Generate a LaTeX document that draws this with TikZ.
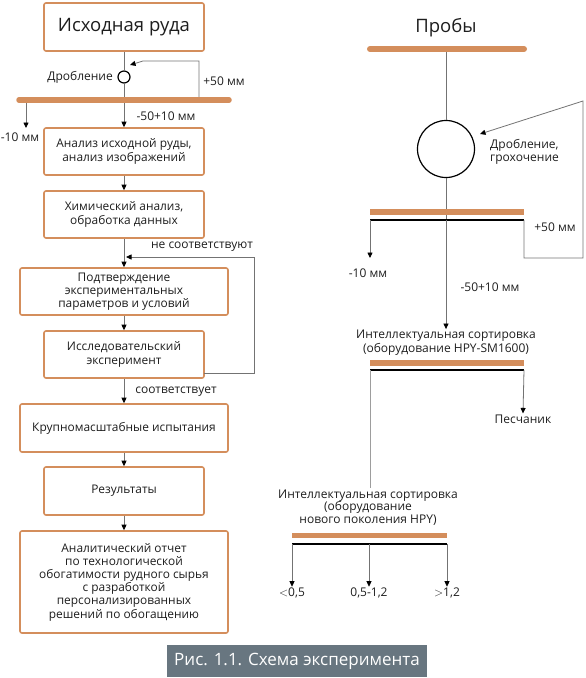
\documentclass[tikz,border=0pt]{standalone}
\usepackage{fontspec}
\setmainfont{Open Sans}
\usetikzlibrary{arrows.meta}
\definecolor{orng}{RGB}{212,142,92}
\definecolor{lgrey}{RGB}{115,115,115}
\definecolor{capbg}{RGB}{104,118,128}
\definecolor{txt}{RGB}{30,30,30}
\begin{document}
\begin{tikzpicture}[x=1pt,y=-1pt,
  every node/.style={text=txt},
  box/.style={draw=orng, line width=1.6pt, rounded corners=2pt, fill=white, align=center,
    font=\fontsize{11.9}{13.2}\selectfont, inner sep=2pt},
  con/.style={draw=lgrey, line width=0.8pt},
  arr/.style={con, -{Triangle[length=5.5pt,width=5pt,color=black]}},
  obar/.style={draw=orng, line width=5.5pt},
  kline/.style={draw=black, line width=1.3pt},
  lbl/.style={font=\fontsize{12}{13.5}\selectfont, inner sep=1pt, align=center},
  big/.style={font=\fontsize{18.5}{21}\selectfont}
]
\useasboundingbox (0,0) rectangle (586,678);

% ---------------- left column ----------------
\node[box, big, minimum width=160pt, minimum height=48pt] (b1) at (124,27) {Исходная руда};
\node[box, minimum width=160pt, minimum height=47pt] (b2) at (124,151.5) {Анализ исходной руды,\\анализ изображений};
\node[box, minimum width=160pt, minimum height=47pt] (b3) at (124,214.5) {Химический анализ,\\обработка данных};
\node[box, minimum width=208pt, minimum height=47pt] (b4) at (124,291.5) {Подтверждение\\экспериментальных\\параметров и условий};
\node[box, minimum width=160pt, minimum height=47pt] (b5) at (124,354.5) {Исследовательский\\эксперимент};
\node[box, minimum width=208pt, minimum height=48pt] (b6) at (124,428) {Крупномасштабные испытания};
\node[box, minimum width=160pt, minimum height=48pt] (b7) at (124,491) {Результаты};
\node[box, minimum width=208pt, minimum height=102pt] (b8) at (124,582) {Аналитический отчет\\по технологической\\обогатимости рудного сырья\\с разработкой\\персонализированных\\решений по обогащению};

\node[circle, draw=black, line width=1.2pt, minimum size=12pt, inner sep=0pt] (c1) at (124,77) {};
\node[lbl, anchor=east] (drob) at (114,77) {Дробление};
\node[lbl] (p50a) at (224,81) {+50 мм};
\node[lbl] (m5010a) at (166,116) {-50+10 мм};
\node[lbl] (m10a) at (20,137) {-10 мм};
\node[lbl] (nes) at (202,247) {не соответствуют};
\node[lbl] (sot) at (176,392) {соответствует};

\coordinate (bar1L) at (19,100);
\coordinate (bar1R) at (229,100);
\coordinate (fbS) at (199,100);
\coordinate (fbT) at (199,61);
\coordinate (fbK) at (143,61);
\coordinate (fbE) at (130,65);
\coordinate (m10S) at (26,100);
\coordinate (m10E) at (26,128);

\draw[con] (b1.south) -- (c1.north);
\draw[arr] (c1.south) -- (b2.north);
\draw[arr] (fbS) -- (fbT) -- (fbK) -- (fbE);
\draw[arr] (m10S) -- (m10E);
\draw[obar, line cap=round] (bar1L) -- (bar1R);

\draw[arr] (b2) -- (b3);
\draw[arr] (b3) -- (b4);
\coordinate (fb2A) at (204,373);
\coordinate (fb2B) at (254,373);
\coordinate (fb2C) at (254,257);
\coordinate (fb2E) at (126,257);
\draw[arr] (fb2A) -- (fb2B) -- (fb2C) -- (fb2E);
\draw[arr] (b4) -- (b5);
\draw[arr] (b5) -- (b6);
\draw[arr] (b6) -- (b7);
\draw[arr] (b7) -- (b8);

% ---------------- right column ----------------
\node[big] (prob) at (446,28) {Пробы};
\coordinate (r1L) at (370,49);
\coordinate (r1R) at (524,49);
\coordinate (r1M) at (446,49);
\node[circle, draw=black, line width=1.2pt, minimum size=57pt, inner sep=0pt] (c2) at (446,149) {};

\coordinate (r2L) at (370,212);
\coordinate (r2R) at (524,212);
\coordinate (k2L) at (370,220);
\coordinate (k2R) at (524,220);
\coordinate (k2M) at (446,220);

\draw[con] (r1M) -- (c2.north);
\draw[con] (c2.south) -- (k2M);
\draw[obar, line cap=round, line width=6pt] (r1L) -- (r1R);
\draw[obar, line width=6pt] (r2L) -- (r2R);
\draw[kline] (k2L) -- (k2R);

\coordinate (m10bE) at (370,258);
\draw[arr] (k2L) -- (m10bE);
\node[lbl] (m10b) at (368,273) {-10 мм};

\coordinate (fr1) at (524,258);
\coordinate (fr2) at (583,258);
\coordinate (fr3) at (583,101);
\coordinate (frE) at (480,134);
\draw[arr] (k2R) -- (fr1) -- (fr2) -- (fr3) -- (frE);
\node[lbl, anchor=west, align=left] (drob2) at (489,152) {Дробление,\\грохочение};
\node[lbl] (p50b) at (555,227) {+50 мм};

\node[lbl, font=\fontsize{12}{14}\selectfont] (is1) at (446,343) {Интеллектуальная сортировка\\(оборудование HPY-SM1600)};
\draw[arr] (k2M) -- (is1.north);
\node[lbl] (m5010b) at (490,287) {-50+10 мм};

\coordinate (r3L) at (370,363);
\coordinate (r3R) at (524,363);
\coordinate (k3L) at (370,370);
\coordinate (k3R) at (524,370);
\draw[obar, line width=6pt] (r3L) -- (r3R);
\draw[kline] (k3L) -- (k3R);
\node[lbl] (pes) at (523,419) {Песчаник};
\draw[arr] (k3R) -- (pes.north);

\node[lbl, font=\fontsize{12}{12.6}\selectfont] (is2) at (368,507.5) {Интеллектуальная сортировка\\(оборудование\\нового поколения HPY)};
\draw[draw=lgrey!70, line width=0.8pt] (k3L) -- (is2.north -| k3L);

\coordinate (r4L) at (292,535.5);
\coordinate (r4R) at (447,535.5);
\coordinate (k4L) at (292,544);
\coordinate (k4M) at (369,544);
\coordinate (k4R) at (447,544);
\draw[obar, line width=5.5pt] (r4L) -- (r4R);
\draw[kline] (k4L) -- (k4R);
\node[lbl] (o1) at (292,593) {$<$0,5};
\node[lbl] (o2) at (369,593) {0,5-1,2};
\node[lbl] (o3) at (447,593) {$>$1,2};
\draw[arr] (k4L) -- (o1.north);
\draw[arr] (k4M) -- (o2.north);
\draw[arr] (k4R) -- (o3.north);

% ---------------- caption ----------------
\node[fill=capbg, text=white, minimum width=260pt, minimum height=32pt, inner sep=0pt,
  font=\fontsize{17}{20}\selectfont] (cap) at (297,661) {Рис. 1.1. Схема эксперимента};
\end{tikzpicture}
\end{document}
